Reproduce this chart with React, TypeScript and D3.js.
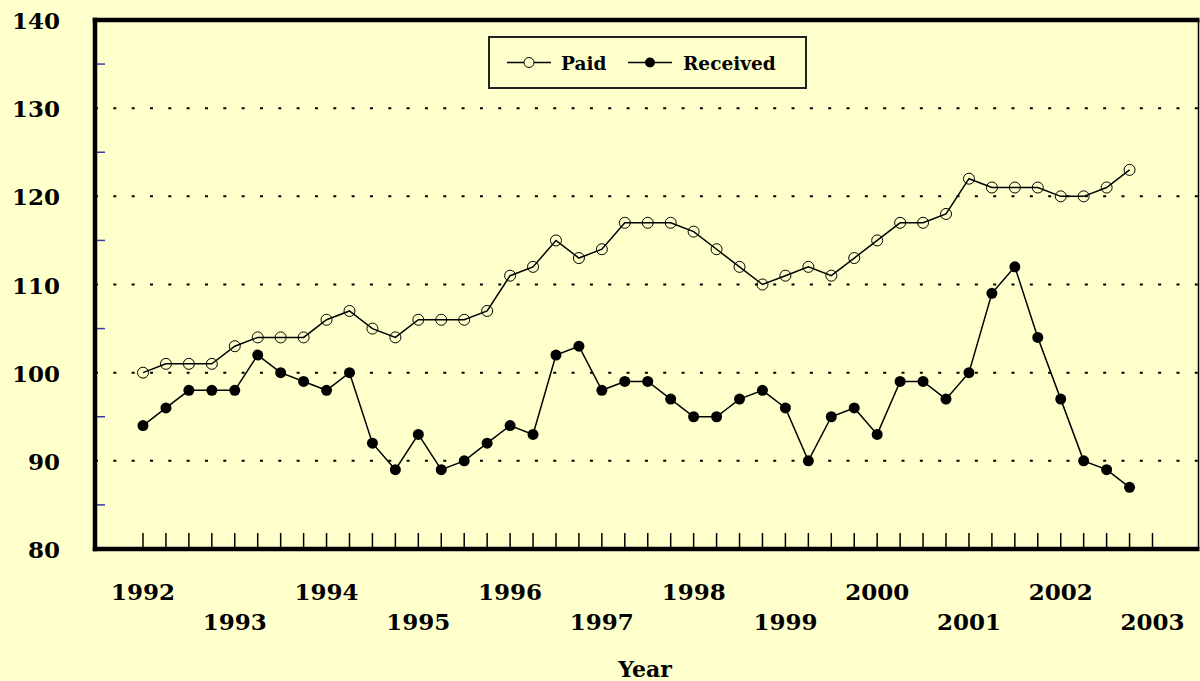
import React from "react";
import * as d3 from "d3";

const years = [1992, 1993, 1994, 1995, 1996, 1997, 1998, 1999, 2000, 2001, 2002, 2003];
const paid = [
  100, 101, 101, 101, 103, 104, 104, 104, 106, 107, 105, 104, 106, 106, 106, 107,
  111, 112, 115, 113, 114, 117, 117, 117, 116, 114, 112, 110, 111, 112, 111, 113,
  115, 117, 117, 118, 122, 121, 121, 121, 120, 120, 121, 123,
];
const received = [
  94, 96, 98, 98, 98, 102, 100, 99, 98, 100, 92, 89, 93, 89, 90, 92,
  94, 93, 102, 103, 98, 99, 99, 97, 95, 95, 97, 98, 96, 90, 95, 96,
  93, 99, 99, 97, 100, 109, 112, 104, 97, 90, 89, 87,
];
const yTicks = [80, 90, 100, 110, 120, 130, 140];
const gridValues = [90, 100, 110, 120, 130];
const minorTicks = [85, 95, 105, 115, 125, 135];
const seriesNames = ["Paid", "Received"];
const axisTitle = "Year";

const W = 1200;
const H = 681;
const FONT = "'DejaVu Serif', serif";

export default function App() {
  const left = 95;
  const right = 1198.5;
  const top = 20;
  const bottom = 549;
  const x = d3.scaleLinear().domain([0, 44]).range([143, 1152.5]);
  const y = d3.scaleLinear().domain([80, 140]).range([bottom, top]);
  const line = d3
    .line<number>()
    .x((_, i) => x(i))
    .y((d) => y(d));
  const tickIdx = d3.range(0, 45);

  return (
    <div style={{ position: "absolute", left: 0, top: 0 }}>
      <svg width={W} height={H} style={{ display: "block" }}>
        <rect x={0} y={0} width={W} height={H} fill="#FFFFCC" />
        {/* grid */}
        {gridValues.map((v) => (
          <line
            key={"g" + v}
            x1={left}
            x2={right}
            y1={y(v)}
            y2={y(v)}
            stroke="#000"
            strokeWidth={2}
            strokeDasharray="3 15.33"
          />
        ))}
        {/* minor y ticks */}
        {minorTicks.map((v) => (
          <line
            key={"m" + v}
            x1={96}
            x2={105}
            y1={y(v)}
            y2={y(v)}
            stroke="#3a3aa8"
            strokeWidth={1.5}
          />
        ))}
        {/* x ticks */}
        {tickIdx.map((i) => (
          <line
            key={"t" + i}
            x1={x(i)}
            x2={x(i)}
            y1={bottom - 16}
            y2={bottom}
            stroke="#000"
            strokeWidth={1.5}
          />
        ))}
        {/* frame */}
        <line x1={right} x2={right} y1={top} y2={bottom} stroke="#000" strokeWidth={1.5} />
        <line x1={left - 2.25} x2={right + 1} y1={top} y2={top} stroke="#000" strokeWidth={4.5} />
        <line x1={left - 2.25} x2={right + 1} y1={bottom} y2={bottom} stroke="#000" strokeWidth={4.5} />
        <line x1={left} x2={left} y1={top - 2.25} y2={bottom + 2.25} stroke="#000" strokeWidth={4.5} />

        {/* series lines */}
        <path d={line(paid) || ""} fill="none" stroke="#000" strokeWidth={1.5} />
        <path d={line(received) || ""} fill="none" stroke="#000" strokeWidth={1.5} />
        {paid.map((v, i) => (
          <circle key={"p" + i} cx={x(i)} cy={y(v)} r={5.5} fill="none" stroke="#000" strokeWidth={1} />
        ))}
        {received.map((v, i) => (
          <circle key={"r" + i} cx={x(i)} cy={y(v)} r={5.5} fill="#000" />
        ))}

        {/* y labels */}
        {yTicks.map((v) => (
          <text
            key={"yl" + v}
            x={60}
            y={y(v) + 9}
            textAnchor="end"
            fontFamily={FONT}
            fontWeight="bold"
            fontSize={23}
            fill="#000"
          >
            {v}
          </text>
        ))}
        {/* x labels */}
        {years.map((yr, k) => (
          <text
            key={"xl" + yr}
            x={x(k * 4)}
            y={k % 2 === 0 ? 600 : 630}
            textAnchor="middle"
            fontFamily={FONT}
            fontWeight="bold"
            fontSize={23}
            fill="#000"
          >
            {yr}
          </text>
        ))}
        <text
          x={645}
          y={677}
          textAnchor="middle"
          fontFamily={FONT}
          fontWeight="bold"
          fontSize={22}
          fill="#000"
        >
          {axisTitle}
        </text>

        {/* legend */}
        <rect x={489} y={37} width={317} height={51} fill="none" stroke="#222" strokeWidth={2} />
        <line x1={507} x2={551} y1={62.5} y2={62.5} stroke="#000" strokeWidth={1.5} />
        <circle cx={529} cy={62.5} r={5} fill="#FFFFCC" stroke="#000" strokeWidth={1} />
        <text x={561} y={70} fontFamily={FONT} fontWeight="bold" fontSize={18.5} fill="#000">
          {seriesNames[0]}
        </text>
        <line x1={628} x2={672} y1={62.5} y2={62.5} stroke="#000" strokeWidth={1.5} />
        <circle cx={650} cy={62.5} r={5} fill="#000" />
        <text x={683} y={70} fontFamily={FONT} fontWeight="bold" fontSize={18.5} fill="#000">
          {seriesNames[1]}
        </text>
      </svg>
    </div>
  );
}
